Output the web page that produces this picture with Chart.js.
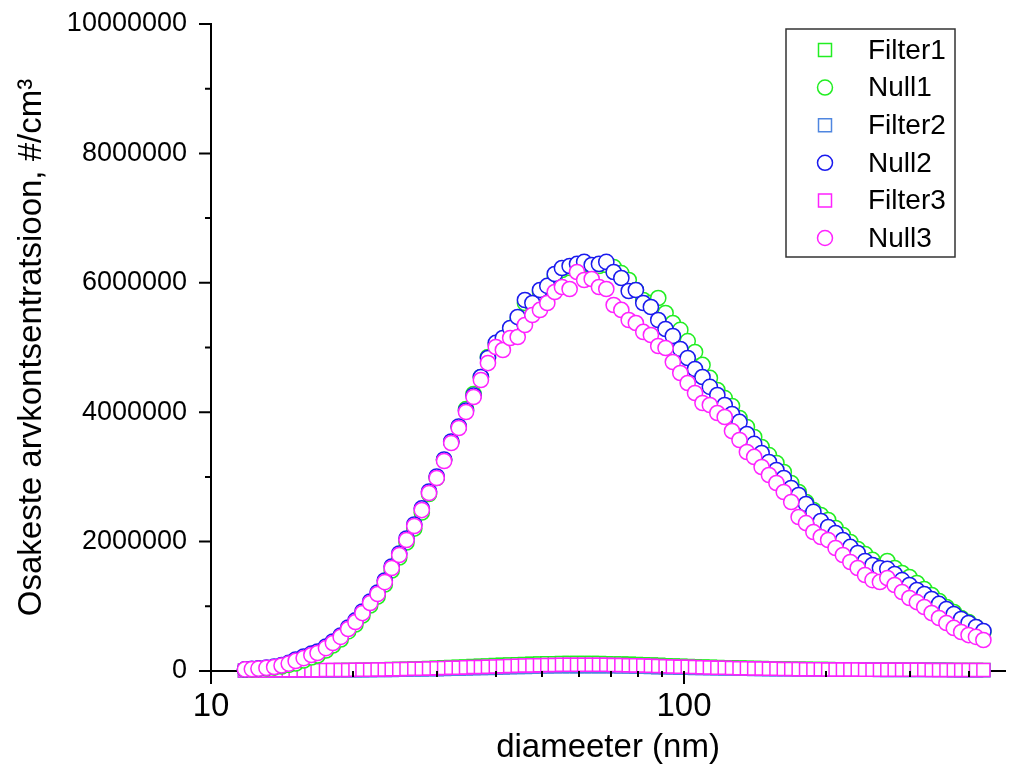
<!DOCTYPE html>
<html>
<head>
<meta charset="utf-8">
<script src="https://cdn.jsdelivr.net/npm/chart.js@4.4.1/dist/chart.umd.min.js"></script>
<style>
  body { margin: 0; background: #fff; overflow: hidden; }
  #wrap { width: 1009px; height: 772px; position: relative; }
</style>
</head>
<body>
<div id="wrap"><canvas id="sizeChart"></canvas></div>
<script>
// particle diameters (nm), SMPS channel midpoints
const diameters = [
  11.8, 12.2, 12.6, 13.1, 13.6, 14.1, 14.6, 15.1, 15.7, 16.3,
  16.8, 17.5, 18.1, 18.8, 19.5, 20.2, 20.9, 21.7, 22.5, 23.3,
  24.1, 25.0, 25.9, 26.9, 27.9, 28.9, 30.0, 31.1, 32.2, 33.4,
  34.6, 35.9, 37.2, 38.5, 40.0, 41.4, 42.9, 44.5, 46.1, 47.8,
  49.6, 51.4, 53.3, 55.2, 57.3, 59.4, 61.5, 63.8, 66.1, 68.5,
  71.0, 73.7, 76.4, 79.1, 82.0, 85.1, 88.2, 91.4, 94.7, 98.2,
  101.8, 105.5, 109.4, 113.4, 117.6, 121.9, 126.3, 131.0, 135.8, 140.7,
  145.9, 151.2, 156.8, 162.5, 168.5, 174.7, 181.1, 187.7, 194.6, 201.7,
  209.1, 216.7, 224.7, 232.9, 241.4, 250.3, 259.5, 269.0, 278.8, 289.0,
  299.6, 310.6, 322.0, 333.8, 346.0, 358.7, 371.8, 385.4, 399.5, 414.2,
  429.4
];

const filter1 = [
  5000, 6000, 6000, 7000, 7000, 8000, 8000, 9000, 10000, 10000,
  11000, 12000, 13000, 14000, 16000, 17000, 19000, 21000, 23000, 26000,
  29000, 32000, 35000, 39000, 43000, 47000, 51000, 56000, 61000, 66000,
  71000, 76000, 81000, 86000, 91000, 96000, 100000, 104000, 108000, 112000,
  115000, 118000, 120000, 122000, 123000, 124000, 124000, 123000, 122000, 120000,
  117000, 114000, 111000, 107000, 103000, 99000, 95000, 90000, 86000, 82000,
  78000, 74000, 70000, 66000, 62000, 59000, 56000, 53000, 50000, 47000,
  45000, 42000, 40000, 38000, 36000, 35000, 33000, 32000, 30000, 29000,
  28000, 27000, 26000, 25000, 24000, 23000, 23000, 22000, 21000, 21000,
  20000, 20000, 19000, 19000, 18000, 18000, 17000, 17000, 17000, 16000,
  16000
];

const null1 = [
  20000, 25000, 32000, 40000, 52000, 70000, 95000, 116000, 162000, 209000,
  240000, 317000, 394000, 487000, 611000, 719000, 858000, 1012000, 1151000, 1337000,
  1553000, 1754000, 1986000, 2202000, 2450000, 2736000, 2983000, 3261000, 3539000, 3771000,
  4049000, 4281000, 4544000, 4853000, 5039000, 5116000, 5271000, 5425000, 5688000, 5657000,
  5858000, 5920000, 6090000, 6198000, 6229000, 6260000, 6291000, 6260000, 6260000, 6275000,
  6244000, 6151000, 6043000, 5889000, 5734000, 5688000, 5765000, 5533000, 5379000, 5271000,
  5100000, 4930000, 4730000, 4529000, 4343000, 4219000, 4096000, 3910000, 3771000, 3617000,
  3462000, 3338000, 3215000, 3076000, 2906000, 2767000, 2612000, 2488000, 2411000, 2334000,
  2210000, 2102000, 1994000, 1886000, 1808000, 1716000, 1623000, 1700000, 1592000, 1515000,
  1453000, 1360000, 1267000, 1175000, 1082000, 989000, 912000, 819000, 757000, 680000,
  603000
];

const filter2 = [
  4000, 4000, 5000, 5000, 5000, 6000, 6000, 6000, 7000, 7000,
  8000, 8000, 9000, 10000, 10000, 11000, 12000, 13000, 14000, 15000,
  17000, 18000, 20000, 22000, 24000, 26000, 28000, 31000, 33000, 36000,
  39000, 42000, 45000, 48000, 51000, 54000, 57000, 60000, 63000, 65000,
  68000, 70000, 72000, 73000, 74000, 75000, 75000, 75000, 74000, 73000,
  72000, 70000, 68000, 66000, 64000, 62000, 59000, 57000, 54000, 52000,
  49000, 47000, 45000, 43000, 41000, 39000, 37000, 35000, 33000, 32000,
  30000, 29000, 28000, 27000, 26000, 25000, 24000, 23000, 22000, 21000,
  20000, 20000, 19000, 19000, 18000, 18000, 17000, 17000, 16000, 16000,
  15000, 15000, 15000, 14000, 14000, 14000, 13000, 13000, 13000, 12000,
  12000
];

const null2 = [
  25000, 32000, 40000, 52000, 68000, 92000, 125000, 178000, 224000, 270000,
  301000, 379000, 456000, 549000, 672000, 781000, 920000, 1074000, 1213000, 1399000,
  1615000, 1816000, 2048000, 2264000, 2512000, 2774000, 3006000, 3269000, 3547000, 3779000,
  4026000, 4258000, 4544000, 4838000, 5070000, 5147000, 5301000, 5471000, 5734000, 5688000,
  5889000, 5951000, 6136000, 6229000, 6260000, 6291000, 6322000, 6275000, 6291000, 6322000,
  6167000, 6074000, 5873000, 5889000, 5688000, 5626000, 5425000, 5286000, 5178000, 4977000,
  4838000, 4668000, 4544000, 4390000, 4266000, 4111000, 3972000, 3849000, 3663000, 3509000,
  3369000, 3230000, 3107000, 2983000, 2828000, 2720000, 2581000, 2458000, 2318000, 2226000,
  2133000, 2025000, 1917000, 1824000, 1700000, 1638000, 1592000, 1577000, 1499000, 1406000,
  1329000, 1252000, 1190000, 1113000, 1036000, 958000, 881000, 804000, 742000, 680000,
  618000
];

const filter3 = [
  8000, 8000, 9000, 9000, 10000, 10000, 11000, 11000, 12000, 12000,
  13000, 14000, 15000, 16000, 17000, 18000, 20000, 21000, 23000, 25000,
  27000, 29000, 31000, 33000, 36000, 39000, 42000, 45000, 49000, 52000,
  56000, 60000, 63000, 67000, 71000, 74000, 78000, 81000, 84000, 87000,
  90000, 92000, 94000, 96000, 97000, 98000, 98000, 98000, 97000, 96000,
  94000, 92000, 90000, 87000, 84000, 81000, 78000, 74000, 71000, 67000,
  64000, 61000, 58000, 55000, 52000, 49000, 47000, 44000, 42000, 40000,
  38000, 36000, 34000, 32000, 31000, 29000, 28000, 27000, 26000, 25000,
  24000, 23000, 22000, 22000, 21000, 21000, 20000, 20000, 19000, 19000,
  18000, 18000, 18000, 17000, 17000, 17000, 16000, 16000, 16000, 15000,
  15000
];

const null3 = [
  25000, 30000, 38000, 48000, 62000, 85000, 115000, 155000, 200000, 247000,
  278000, 355000, 433000, 526000, 649000, 757000, 896000, 1051000, 1190000, 1375000,
  1592000, 1793000, 2025000, 2241000, 2488000, 2751000, 2983000, 3246000, 3524000, 3756000,
  4003000, 4235000, 4498000, 4760000, 5008000, 4961000, 5147000, 5162000, 5348000, 5502000,
  5580000, 5688000, 5858000, 5935000, 5904000, 6167000, 6043000, 6059000, 5935000, 5904000,
  5657000, 5580000, 5425000, 5379000, 5240000, 5193000, 5023000, 4992000, 4776000, 4606000,
  4451000, 4297000, 4142000, 4111000, 3988000, 3926000, 3709000, 3570000, 3385000, 3308000,
  3153000, 3029000, 2906000, 2767000, 2612000, 2380000, 2287000, 2148000, 2071000, 2025000,
  1901000, 1793000, 1685000, 1592000, 1484000, 1406000, 1376000, 1437000, 1329000, 1221000,
  1128000, 1066000, 989000, 896000, 819000, 742000, 665000, 603000, 556000, 526000,
  479000
];

// axis ticks
const xTickValues = [10, 20, 30, 40, 50, 60, 70, 80, 90, 100, 200, 300, 400];
const xTickLabels = { 10: '10', 100: '100' };
const yTickValues = [0, 2000000, 4000000, 6000000, 8000000, 10000000];

const FONT = '"Liberation Sans", Arial, sans-serif';

const toPoints = (ys) => diameters.map((d, i) => ({ x: d, y: ys[i] }));

const makeSet = (label, values, color, style, order) => ({
  label,
  data: toPoints(values),
  borderColor: color,
  backgroundColor: '#ffffff',
  pointStyle: style,
  pointRadius: style === 'rect' ? 9.2 : 7.6,
  pointBorderWidth: 1.5,
  pointHoverRadius: style === 'rect' ? 9.2 : 7.6,
  showLine: false,
  clip: false,
  order,
});

// tick marks (major long, minor short) and the boxed legend
const axisDecor = {
  id: 'axisDecor',
  afterDraw(chart) {
    const { ctx, chartArea, scales: { x, y } } = chart;
    ctx.save();
    ctx.strokeStyle = '#000';
    ctx.lineWidth = 2;
    ctx.beginPath();
    xTickValues.forEach((v) => {
      const px = Math.round(x.getPixelForValue(v));
      const len = xTickLabels[v] ? 13 : 6;
      ctx.moveTo(px, chartArea.bottom);
      ctx.lineTo(px, chartArea.bottom + len);
    });
    for (let i = 0; i < yTickValues.length; i++) {
      const py = y.getPixelForValue(yTickValues[i]);
      ctx.moveTo(chartArea.left, py);
      ctx.lineTo(chartArea.left - 12, py);
      if (i < yTickValues.length - 1) {
        const pm = y.getPixelForValue((yTickValues[i] + yTickValues[i + 1]) / 2);
        ctx.moveTo(chartArea.left, pm);
        ctx.lineTo(chartArea.left - 6, pm);
      }
    }
    ctx.stroke();

    // legend
    const bx = chartArea.right - 219, by = chartArea.top + 5, bw = 169, bh = 228;
    ctx.fillStyle = '#fff';
    ctx.fillRect(bx, by, bw, bh);
    ctx.strokeStyle = '#333';
    ctx.lineWidth = 1.5;
    ctx.strokeRect(bx, by, bw, bh);
    ctx.font = '28px ' + FONT;
    ctx.textBaseline = 'middle';
    ctx.textAlign = 'left';
    chart.data.datasets.forEach((ds, i) => {
      const cy = by + 21 + i * 37.6;
      const cx = bx + 39;
      ctx.strokeStyle = ds.borderColor;
      ctx.fillStyle = '#fff';
      ctx.lineWidth = 1.5;
      ctx.beginPath();
      if (ds.pointStyle === 'rect') {
        ctx.rect(cx - 6.5, cy - 6.5, 13, 13);
      } else {
        ctx.arc(cx, cy, 7.5, 0, Math.PI * 2);
      }
      ctx.fill();
      ctx.stroke();
      ctx.fillStyle = '#000';
      ctx.fillText(ds.label, bx + 82, cy + 1);
    });
    ctx.restore();
  },
};

const ctx = document.getElementById('sizeChart').getContext('2d');

new Chart(ctx, {
  type: 'scatter',
  data: {
    datasets: [
      makeSet('Filter1', filter1, '#22ee22', 'rect', 5),
      makeSet('Null1', null1, '#22ee22', 'circle', 2),
      makeSet('Filter2', filter2, '#4f86e0', 'rect', 4),
      makeSet('Null2', null2, '#1a1aee', 'circle', 1),
      makeSet('Filter3', filter3, '#ff22ff', 'rect', 3),
      makeSet('Null3', null3, '#ff22ff', 'circle', 0),
    ],
  },
  options: {
    responsive: true,
    maintainAspectRatio: false,
    animation: false,
    layout: { autoPadding: false, padding: { top: 24, right: 4, left: 0, bottom: 0 } },
    plugins: {
      legend: { display: false },
      tooltip: { enabled: false },
    },
    scales: {
      x: {
        type: 'logarithmic',
        min: 10,
        max: 477,
        afterFit: (scale) => {
          scale.height = 101;
          scale.paddingLeft = 0;
          scale.paddingRight = 0;
        },
        afterBuildTicks: (scale) => {
          scale.ticks = xTickValues.map((v) => ({ value: v }));
        },
        grid: { display: false, drawTicks: false },
        border: { display: true, color: '#000', width: 2 },
        ticks: {
          autoSkip: false,
          maxRotation: 0,
          padding: 16,
          color: '#000',
          font: { family: FONT, size: 33 },
          callback: (v) => xTickLabels[v] || '',
        },
        title: {
          display: true,
          text: 'diameeter (nm)',
          color: '#000',
          font: { family: FONT, size: 33 },
          padding: { top: 0, bottom: 4 },
        },
      },
      y: {
        min: 0,
        max: 10000000,
        afterFit: (scale) => {
          scale.width = 211;
          scale.paddingTop = 0;
          scale.paddingBottom = 0;
        },
        afterBuildTicks: (scale) => {
          scale.ticks = yTickValues.map((v) => ({ value: v }));
        },
        grid: { display: false, drawTicks: false },
        border: { display: true, color: '#000', width: 2 },
        ticks: {
          padding: 24,
          color: '#000',
          font: { family: FONT, size: 27 },
          callback: (v) => String(v),
        },
        title: {
          display: true,
          text: 'Osakeste arvkontsentratsioon, #/cm³',
          color: '#000',
          font: { family: FONT, size: 33 },
          padding: { top: 12, bottom: 0 },
        },
      },
    },
  },
  plugins: [axisDecor],
});
</script>
</body>
</html>
